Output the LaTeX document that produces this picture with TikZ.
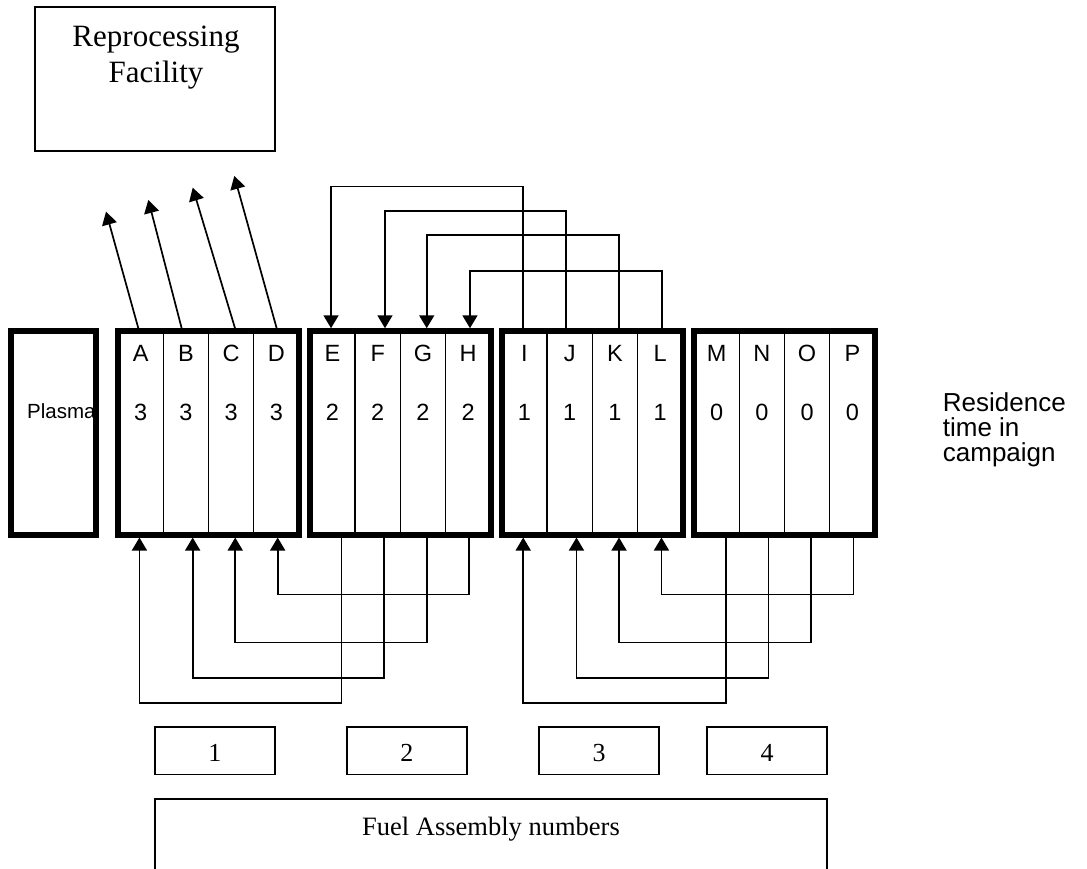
\documentclass[tikz,border=0pt]{standalone}
\usepackage{fontspec}
\setmainfont{Liberation Serif}
\newfontfamily\arialf{Liberation Sans}
\usetikzlibrary{arrows.meta,calc}
\begin{document}
\begin{tikzpicture}[x=1pt,y=-1pt,
  frame/.style={draw, line width=5.5pt, minimum height=203.8pt, inner sep=0pt},
  col/.style={draw, line width=1.4pt, minimum width=45.25pt, minimum height=203.8pt, inner sep=0pt},
  lett/.style={font={\arialf\fontsize{23.5}{28}\selectfont}, anchor=base, inner sep=0pt},
  conn/.style={line width=1.7pt},
  arr/.style={conn, -{Triangle[length=13pt,width=15pt]}},
  numbox/.style={draw, line width=1.7pt, minimum width=120.3pt, minimum height=47.5pt, inner sep=0pt,
    font={\fontsize{26}{30}\selectfont}, text height=22pt, text depth=0pt},
]
\useasboundingbox (0,0) rectangle (1087,869);

% Reprocessing facility
\node[draw, line width=1.7pt, minimum width=240pt, minimum height=144pt, inner sep=0pt] (repro) at (155,79) {};
\node[anchor=base, align=center, font={\fontsize{31}{36}\selectfont}, inner sep=0pt] (reprotxt) at (156,82.7) {Reprocessing\\Facility};

% Plasma
\node[frame, minimum width=85pt] (plasma) at (53.7,432.9) {};
\node[font={\arialf\fontsize{20.5}{24}\selectfont}, anchor=base west, inner sep=0pt] (plasmatxt) at (27,418.5) {Plasma};

% Blocks of fuel assemblies
\foreach \L/\a/\b/\c/\d/\t [count=\i] in {118/A/B/C/D/3, 309.8/E/F/G/H/2, 501.8/I/J/K/L/1, 694/M/N/O/P/0} {
  \foreach \n [count=\k from 0] in {\a,\b,\c,\d} {
    \node[col] (\n) at ({\L+22.625+45.25*\k},432.9) {};
    \node[lett] (l\n) at ({\L+22.625+45.25*\k},361.7) {\n};
    \node[lett] (d\n) at ({\L+22.625+45.25*\k},420) {\t};
  }
  \node[frame, minimum width=181pt] (blk\i) at ({\L+90.5},432.9) {};
}

% ports
\foreach \n/\dx in {A/-2.3, B/-4.2, C/3.9, D/0.3} {
  \coordinate (t\n) at ($(blk1.north -| \n.center)+(\dx,0)$);
}
\foreach \n/\dx in {I/-1.7, J/-3.7, K/4.4, L/1.5} {
  \coordinate (t\n) at ($(blk3.north -| \n.center)+(\dx,0)$);
}
\foreach \n/\dx in {E/-1.4, F/7.3, G/3.8, H/1.8} {
  \coordinate (t\n) at ($(blk2.north -| \n.center)+(\dx,0)$);
}
\foreach \n/\dx in {A/-1.2, B/6.8, C/4.1, D/1.3} {
  \coordinate (b\n) at ($(blk1.south -| \n.center)+(\dx,0)$);
}
\foreach \n/\dx in {I/-1.2, J/6.8, K/4.1, L/1.3} {
  \coordinate (b\n) at ($(blk3.south -| \n.center)+(\dx,0)$);
}
\foreach \n/\dx in {E/9.2, F/6.5, G/3.85, H/1.0} {
  \coordinate (b\n) at ($(blk2.south -| \n.center)+(\dx,0)$);
}
\foreach \n/\dx in {M/9.2, N/6.5, O/3.85, P/1.0} {
  \coordinate (b\n) at ($(blk4.south -| \n.center)+(\dx,0)$);
}

% discharge to reprocessing
\coordinate (rA) at (106,211.7);
\coordinate (rB) at (148.3,200);
\coordinate (rC) at (192.7,187.7);
\coordinate (rD) at (234.3,176);
\foreach \n in {A,B,C,D} { \draw[arr] (t\n) -- (r\n); }

% top shuffles I->E, J->F, K->G, L->H
\draw[arr] (tI) -- ++(0,-141.6) -| (tE);
\draw[arr] (tJ) -- ++(0,-117.25) -| (tF);
\draw[arr] (tK) -- ++(0,-93.25) -| (tG);
\draw[arr] (tL) -- ++(0,-57.55) -| (tH);

% bottom shuffles
\draw[arr] (bE) -- ++(0,165.15) -| (bA);
\draw[arr] (bF) -- ++(0,140.75) -| (bB);
\draw[arr] (bG) -- ++(0,104.95) -| (bC);
\draw[arr] (bH) -- ++(0,56.95) -| (bD);
\draw[arr] (bM) -- ++(0,165.15) -| (bI);
\draw[arr] (bN) -- ++(0,140.75) -| (bJ);
\draw[arr] (bO) -- ++(0,104.95) -| (bK);
\draw[arr] (bP) -- ++(0,56.95) -| (bL);

% residence label
\node[font={\arialf\fontsize{26}{25}\selectfont}, anchor=base west, align=left, inner sep=0pt] (res) at (942.7,461.7) {Residence\\time in\\campaign};

% number boxes
\node[numbox] (n1) at (214.85,750.7) {1};
\node[numbox] (n2) at (406.85,750.7) {2};
\node[numbox] (n3) at (599,750.7) {3};
\node[numbox] (n4) at (767,750.7) {4};

% fuel assembly numbers
\node[inner sep=0pt, outer sep=0pt, minimum width=671.7pt, minimum height=70pt] (fuel) at (490.85,834) {};
\draw[line width=1.7pt] (fuel.south west) -- (fuel.north west) -- (fuel.north east) -- (fuel.south east);
\node[anchor=base, font={\fontsize{26.5}{30}\selectfont}, inner sep=0pt] (fueltxt) at (491,835) {Fuel Assembly numbers};
\end{tikzpicture}
\end{document}
